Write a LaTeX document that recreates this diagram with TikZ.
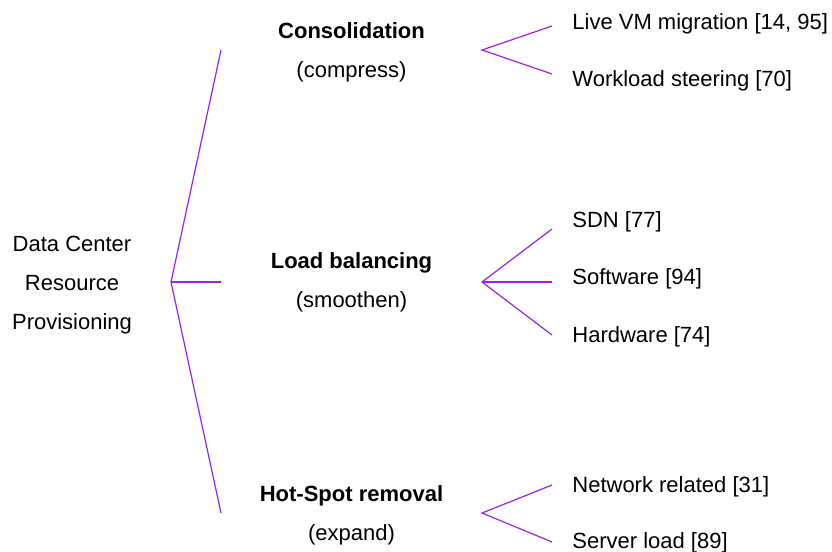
\documentclass[tikz,border=0pt]{standalone}
\usepackage{fontspec}
\setmainfont{Liberation Sans}
\definecolor{branch}{RGB}{155,35,225}
\begin{document}
\begin{tikzpicture}[x=0.5pt,y=-0.5pt,
  branchline/.style={draw=branch,line width=0.6pt},
  rootlbl/.style={inner sep=0pt,anchor=base,font=\fontsize{11}{19.5}\selectfont,align=center},
  midlbl/.style={inner sep=0pt,anchor=base,font=\fontsize{11}{19.5}\selectfont,align=center},
  leaf/.style={inner sep=0pt,anchor=base west,font=\fontsize{11}{13}\selectfont}]
\useasboundingbox (0,0) rectangle (832,552);
% root (base anchor = last line's baseline)
\node[rootlbl] (root) at (72,329) {Data Center\\Resource\\Provisioning};
% middle labels
\node[midlbl] (cons) at (351.5,77.5) {\textbf{Consolidation}\\(compress)};
\node[midlbl] (lb) at (351.5,307.5) {\textbf{Load balancing}\\(smoothen)};
\node[midlbl] (hs) at (351.5,540.5) {\textbf{Hot-Spot removal}\\(expand)};
% leaves
\node[leaf] (l1) at (572,29) {Live VM migration [14, 95]};
\node[leaf] (l2) at (572,86.5) {Workload steering [70]};
\node[leaf] (l3) at (572,227.5) {SDN [77]};
\node[leaf] (l4) at (572,284.5) {Software [94]};
\node[leaf] (l5) at (572,342) {Hardware [74]};
\node[leaf] (l6) at (572,492) {Network related [31]};
\node[leaf] (l7) at (572,548.5) {Server load [89]};
% connector coordinates
\coordinate (rf) at (171,282);
\coordinate (e1) at (221,50);
\coordinate (e2) at (221,282);
\coordinate (e3) at (221,513);
\coordinate (f1) at (482,50);
\coordinate (f2) at (482,282);
\coordinate (f3) at (482,513);
\coordinate (t1) at (552,26);
\coordinate (t2) at (552,74);
\coordinate (t3) at (552,229);
\coordinate (t4) at (552,282);
\coordinate (t5) at (552,335);
\coordinate (t6) at (552,485);
\coordinate (t7) at (552,542);
% connectors
\draw[branchline] (rf) -- (e1);
\draw[branchline] (rf) -- (e2);
\draw[branchline] (rf) -- (e3);
\draw[branchline] (t1) -- (f1) -- (t2);
\draw[branchline] (t3) -- (f2) -- (t5);
\draw[branchline] (f2) -- (t4);
\draw[branchline] (t6) -- (f3) -- (t7);
\end{tikzpicture}
\end{document}
